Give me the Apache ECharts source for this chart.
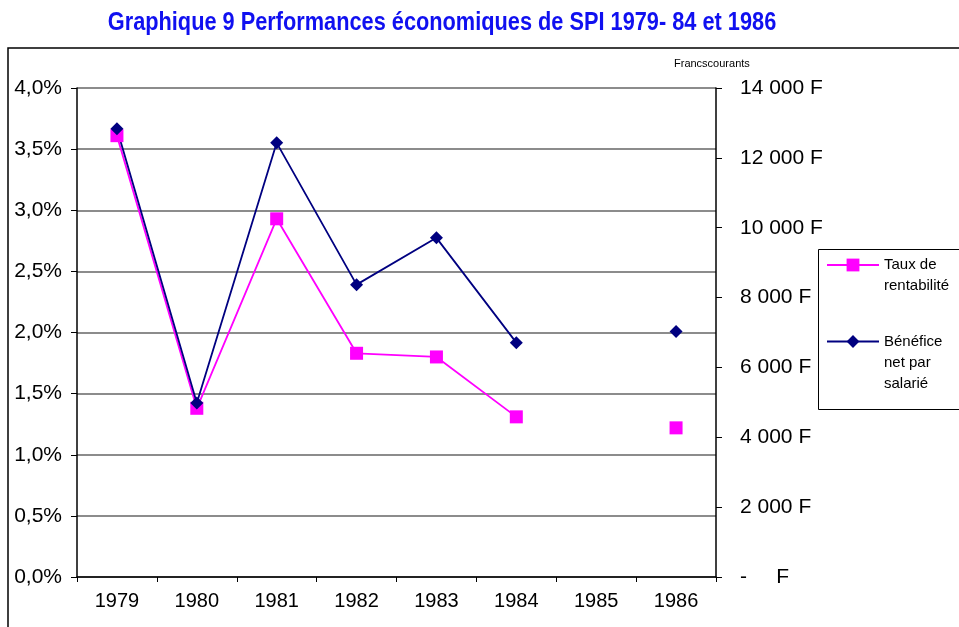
<!DOCTYPE html>
<html>
<head>
<meta charset="utf-8">
<script src="https://cdn.jsdelivr.net/npm/echarts@6/dist/echarts.min.js"></script>
<style>
  html, body { margin: 0; padding: 0; background: #fff; }
  #chart { width: 959px; height: 627px; }
</style>
</head>
<body>
<div id="chart"></div>
<script>
var years = ['1979', '1980', '1981', '1982', '1983', '1984', '1985', '1986'];
// taux de rentabilité, en %
var tauxRentabilite = [3.61, 1.38, 2.93, 1.83, 1.80, 1.31, null, 1.22];
// bénéfice net par salarié, francs courants
var beneficeNet = [12830, 4980, 12430, 8370, 9710, 6710, null, 7030];
var leftTicks = { min: 0, max: 4, interval: 0.5 };
var rightTicks = { min: 0, max: 14000, interval: 2000 };

var font = 'Liberation Sans, Arial, sans-serif';
var chart = echarts.init(document.getElementById('chart'), null, { renderer: 'canvas' });

function fmtFrancs(v) {
  if (v === 0) return '-     F';
  var s = String(v);
  return s.slice(0, s.length - 3) + ' ' + s.slice(-3) + ' F';
}

// legend text: blank line on top so the marker sits next to the first line
var legendRich = {
  t: { fontFamily: font, fontSize: 15, color: '#000', lineHeight: 21 },
  b1: { lineHeight: 21 },
  b2: { lineHeight: 42 }
};

chart.setOption({
  animation: false,
  backgroundColor: '#fff',
  graphic: [
    {
      type: 'text',
      x: 442,
      y: 23,
      scaleX: 0.87,
      style: {
        text: 'Graphique 9 Performances économiques de SPI 1979- 84 et 1986',
        align: 'center',
        verticalAlign: 'middle',
        fill: '#1010f0',
        font: 'bold 25px Liberation Sans, Arial, sans-serif'
      }
    },
    {
      type: 'polyline',
      shape: { points: [[8, 627], [8, 48], [959, 48]] },
      style: { stroke: '#000', lineWidth: 1.5, fill: null }
    },
    {
      type: 'rect',
      shape: { x: 818.5, y: 249.5, width: 160, height: 160 },
      style: { stroke: '#000', lineWidth: 1, fill: null }
    },
    {
      type: 'text',
      left: 674,
      top: 58,
      style: { text: 'Francscourants', fontFamily: font, fontSize: 11, fill: '#000' }
    }
  ],
  legend: [
    {
      orient: 'vertical',
      left: 826,
      top: 238,
      padding: 0,
      itemWidth: 52,
      itemHeight: 16,
      itemGap: 0,
      formatter: function() { return '{b1| }\n{t|Taux de}\n{t|rentabilité}'; },
      textStyle: { rich: legendRich },
      data: ['Taux de rentabilité']
    },
    {
      orient: 'vertical',
      left: 826,
      top: 304,
      padding: 0,
      itemWidth: 52,
      itemHeight: 16,
      itemGap: 0,
      formatter: function() { return '{b2| }\n{t|Bénéfice}\n{t|net par}\n{t|salarié}'; },
      textStyle: { rich: legendRich },
      data: ['Bénéfice net par salarié']
    }
  ],
  grid: { left: 77, right: 243, top: 88, bottom: 50 },
  xAxis: {
    type: 'category',
    data: years,
    boundaryGap: true,
    axisLine: { lineStyle: { color: '#000', width: 1.5 } },
    axisTick: { show: true, length: 5, lineStyle: { color: '#000' } },
    axisLabel: { color: '#000', fontFamily: font, fontSize: 20, margin: 14 },
    splitLine: { show: false }
  },
  yAxis: [
    {
      type: 'value',
      position: 'left',
      min: leftTicks.min,
      max: leftTicks.max,
      interval: leftTicks.interval,
      axisLine: { show: true, lineStyle: { color: '#000', width: 1.5 } },
      axisTick: { show: true, length: 6, lineStyle: { color: '#000' } },
      axisLabel: {
        color: '#000', fontFamily: font, fontSize: 21, margin: 15,
        formatter: function(v) { return v.toFixed(1).replace('.', ',') + '%'; }
      },
      splitLine: { show: true, lineStyle: { color: '#666', width: 1.5 } }
    },
    {
      type: 'value',
      position: 'right',
      min: rightTicks.min,
      max: rightTicks.max,
      interval: rightTicks.interval,
      axisLine: { show: true, lineStyle: { color: '#000', width: 1.5 } },
      axisTick: { show: true, length: 6, lineStyle: { color: '#000' } },
      axisLabel: {
        color: '#000', fontFamily: font, fontSize: 21, margin: 24,
        formatter: fmtFrancs
      },
      splitLine: { show: false }
    }
  ],
  series: [
    {
      name: 'Taux de rentabilité',
      type: 'line',
      yAxisIndex: 0,
      data: tauxRentabilite,
      connectNulls: false,
      symbol: 'rect',
      symbolSize: 13,
      lineStyle: { color: '#ff00ff', width: 1.8 },
      itemStyle: { color: '#ff00ff' }
    },
    {
      name: 'Bénéfice net par salarié',
      type: 'line',
      yAxisIndex: 1,
      data: beneficeNet,
      connectNulls: false,
      symbol: 'diamond',
      symbolSize: 13,
      lineStyle: { color: '#000080', width: 1.8 },
      itemStyle: { color: '#000080' }
    }
  ]
});
</script>
</body>
</html>
